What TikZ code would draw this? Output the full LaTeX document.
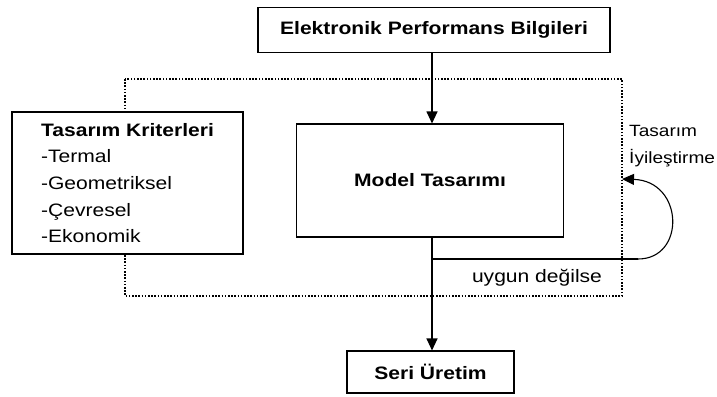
\documentclass[tikz,border=0pt]{standalone}
\usepackage{fontspec}
\setmainfont[FakeStretch=1.17]{Liberation Sans}
\usepackage{tikz}
\usetikzlibrary{arrows.meta,calc,positioning}
\tikzset{
    mybox/.style={draw=black,fill=white,line width=1.1pt,rectangle,inner sep=0pt},
    mydots/.style={draw=black,line width=1.2pt,dash pattern=on 1.6pt off 1.6pt},
    myarrow/.style={line width=1.1pt,draw=black,-{Triangle[width=11pt,length=12pt]}},
    myline/.style={line width=1.1pt,draw=black},
    every node/.style={font=\fontsize{18}{26.7}\selectfont}
}
\begin{document}
\begin{tikzpicture}[x=1pt,y=-1pt]
  \useasboundingbox (0,0) rectangle (717,396);

  % dış çerçeve (noktalı)
  \draw[mydots] (125,79) rectangle (622,296);

  % kutular
  \node[mybox,minimum width=352pt,minimum height=45pt] (bilgi) at (434,30)
    {\textbf{Elektronik Performans Bilgileri}};
  \node[mybox,minimum width=267pt,minimum height=113pt] (model) at (430,180.5)
    {\textbf{Model Tasarımı}};
  \node[mybox,minimum width=231pt,minimum height=142pt,align=left] (kriter) at (127.5,183)
    {\textbf{Tasarım Kriterleri}\\-Termal\\-Geometriksel\\-Çevresel\\-Ekonomik};
  \node[mybox,minimum width=167pt,minimum height=42pt] (seri) at (430.5,372)
    {\textbf{Seri Üretim}};

  % oklar
  \draw[myarrow] (bilgi.south -| 432,0) -- (model.north -| 432,0);
  \draw[myarrow] (model.south -| 432,0) -- (seri.north -| 432,0);

  % geri besleme
  \coordinate (ayrim) at (432,259);
  \coordinate (donus) at (622,179);
  \draw[myline] (ayrim) -- (638,259);
  \draw[myarrow] (638,259) .. controls (686,259) and (684,181) .. (donus);

  % etiketler
  \node[anchor=west,align=left,inner sep=0pt,font=\fontsize{16.3}{26.7}\selectfont]
    (iyiles) at (629,146) {Tasarım\\İyileştirme};
  \node[inner sep=0pt] (uygun) at (537,278) {uygun değilse};
\end{tikzpicture}
\end{document}
